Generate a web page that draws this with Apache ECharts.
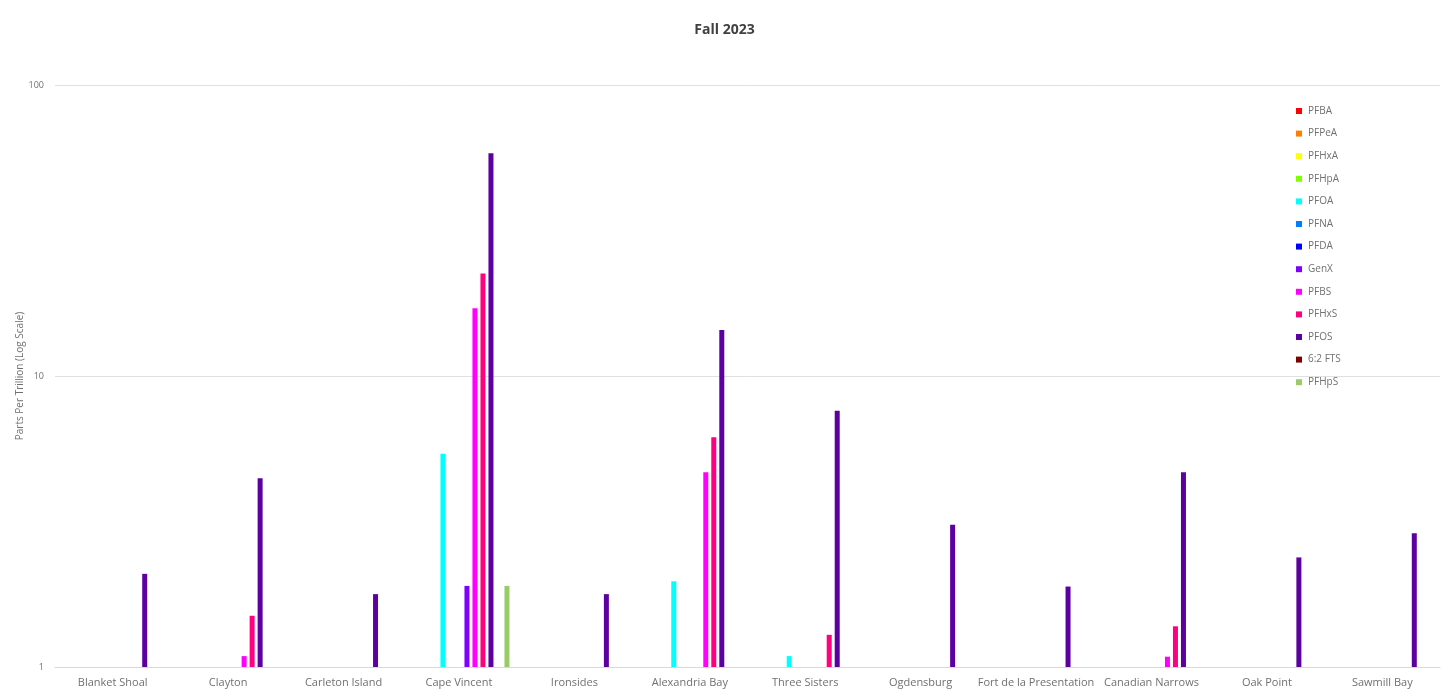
<!DOCTYPE html>
<html>
<head>
<meta charset="utf-8">
<script src="https://cdn.jsdelivr.net/npm/echarts@6/dist/echarts.min.js"></script>
<style>html,body{margin:0;padding:0;background:#fff;}#c{width:1449px;height:690px;}</style>
</head>
<body>
<div id="c"></div>
<script>
const categories = ["Blanket Shoal","Clayton","Carleton Island","Cape Vincent","Ironsides","Alexandria Bay","Three Sisters","Ogdensburg","Fort de la Presentation","Canadian Narrows","Oak Point","Sawmill Bay"];
const seriesNames = ["PFBA","PFPeA","PFHxA","PFHpA","PFOA","PFNA","PFDA","GenX","PFBS","PFHxS","PFOS","6:2 FTS","PFHpS"];
const seriesColors = ["#FF0000","#FF8000","#FFFF00","#80FF00","#00FFFF","#0080FF","#0000FF","#8000FF","#FF00FF","#FF0080","#5C00A0","#800000","#99CC66"];
const PFBA  = [null,null,null,null,null,null,null,null,null,null,null,null];
const PFPeA = [null,null,null,null,null,null,null,null,null,null,null,null];
const PFHxA = [null,null,null,null,null,null,null,null,null,null,null,null];
const PFHpA = [null,null,null,null,null,null,null,null,null,null,null,null];
const PFOA  = [null,null,null,5.4,null,1.97,1.09,null,null,null,null,null];
const PFNA  = [null,null,null,null,null,null,null,null,null,null,null,null];
const PFDA  = [null,null,null,null,null,null,null,null,null,null,null,null];
const GenX  = [null,null,null,1.9,null,null,null,null,null,null,null,null];
const PFBS  = [null,1.09,null,17.1,null,4.67,null,null,null,1.085,null,null];
const PFHxS = [null,1.5,null,22.5,null,6.16,1.29,null,null,1.38,null,null];
const PFOS  = [2.09,4.45,1.78,58.3,1.78,14.4,7.6,3.08,1.89,4.67,2.38,2.88];
const FTS62 = [null,null,null,null,null,null,null,null,null,null,null,null];
const PFHpS = [null,null,null,1.9,null,null,null,null,null,null,null,null];
const seriesData = [PFBA,PFPeA,PFHxA,PFHpA,PFOA,PFNA,PFDA,GenX,PFBS,PFHxS,PFOS,FTS62,PFHpS];

const chart = echarts.init(document.getElementById('c'));
chart.setOption({
  backgroundColor: '#fff',
  animation: false,
  title: {
    text: 'Fall 2023', left: 'center', top: 18,
    textStyle: { fontFamily: 'Open Sans', fontSize: 14, fontWeight: 'bold', color: '#404040' }
  },
  legend: {
    orient: 'vertical', left: 1291, top: 101, itemWidth: 6, itemHeight: 6, itemGap: 12.6,
    icon: 'rect', data: seriesNames,
    textStyle: { fontFamily: 'Open Sans', fontSize: 10, color: '#707070', padding: [0,0,0,1], lineHeight: 10 }
  },
  grid: { left: 55, right: 9, top: 85, bottom: 23, containLabel: false },
  xAxis: {
    type: 'category', data: categories,
    axisLine: { lineStyle: { color: '#d9d9d9' } },
    axisTick: { show: false },
    axisLabel: { fontFamily: 'Open Sans', fontSize: 11, color: '#707070', margin: 10, interval: 0 }
  },
  yAxis: {
    type: 'log', logBase: 10, min: 1, max: 100,
    name: 'Parts Per Trillion (Log Scale)', nameLocation: 'middle', nameGap: 30,
    nameMoveOverlap: false,
    nameTextStyle: { fontFamily: 'Open Sans', fontSize: 10, color: '#707070' },
    axisLine: { show: false }, axisTick: { show: false },
    axisLabel: { fontFamily: 'Open Sans', fontSize: 9, color: '#707070', margin: 11 },
    splitLine: { lineStyle: { color: '#e0e0e0' } }
  },
  series: seriesNames.map((n, i) => ({
    name: n, type: 'bar', data: seriesData[i], barWidth: 5, barGap: '60%',
    itemStyle: { color: seriesColors[i] }
  }))
});
</script>
</body>
</html>
